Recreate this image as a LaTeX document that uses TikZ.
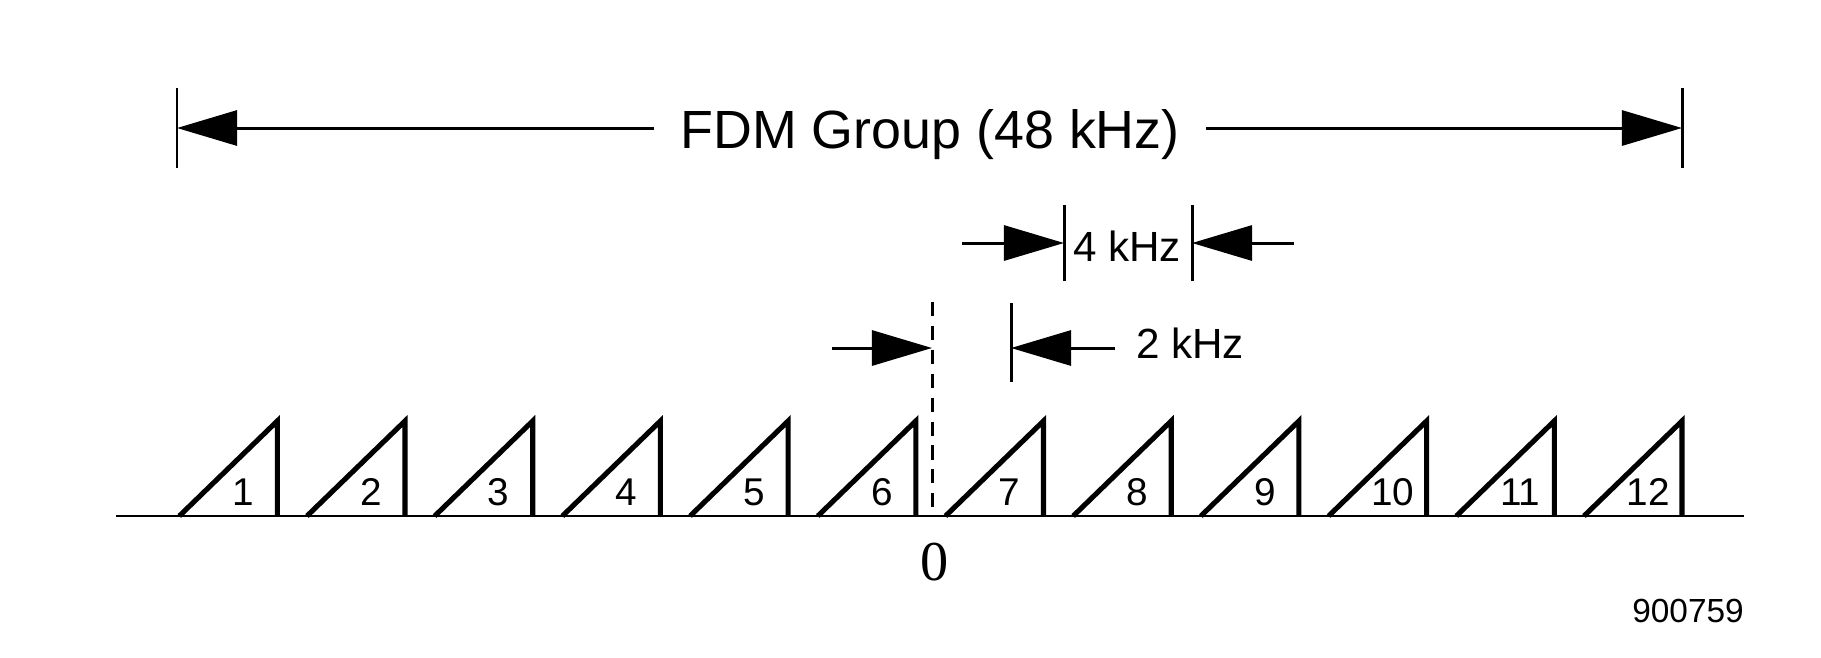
\documentclass[tikz,border=0pt]{standalone}
\usepackage{fontspec}
\setmainfont{Liberation Sans}
\newfontfamily\zerofont{Liberation Serif}
\usepackage{tikz}
\usetikzlibrary{arrows.meta}
\tikzstyle{dim}=[draw=black, line width=0.85pt, -{Triangle[length=0.6cm, width=0.35cm]}]
\tikzstyle{tickline}=[draw=black, line width=0.85pt]
\tikzstyle{axisline}=[draw=black, line width=0.8pt]
\tikzstyle{chan}=[draw=black, line width=1.45pt]
\tikzstyle{chanlabel}=[font=\fontsize{11}{13}\selectfont, inner sep=0pt]

\begin{document}
\begin{tikzpicture}[x=0.01cm, y=-0.01cm]
		   \useasboundingbox (0, 0) rectangle (1821, 657);
		   % group width
		   \coordinate (gl) at (177, 128);
		   \coordinate (gr) at (1682, 128);
		   \node[anchor=base, inner xsep=0.26cm, font=\fontsize{15.3}{18}\selectfont] (fdm) at (930, 148) {FDM Group (48 kHz)};
		   \draw[tickline] (gl) ++(0, -40) -- ++(0, 80);
		   \draw[tickline] (gr) ++(0, -40) -- ++(0, 80);
		   \draw[dim] (gl -| fdm.west) -- (gl);
		   \draw[dim] (gr -| fdm.east) -- (gr);
		   % channel spacing
		   \coordinate (a4) at (1064, 243);
		   \coordinate (b4) at (1192, 243);
		   \coordinate (a4s) at (962, 243);
		   \coordinate (b4s) at (1294, 243);
		   \node[anchor=base, font=\fontsize{12}{14}\selectfont] (f4) at (1127, 261) {4 kHz};
		   \draw[tickline] (a4) ++(0, -38) -- ++(0, 76);
		   \draw[tickline] (b4) ++(0, -38) -- ++(0, 76);
		   \draw[dim] (a4s) -- (a4);
		   \draw[dim] (b4s) -- (b4);
		   % offset from zero
		   \coordinate (zt) at (932, 302);
		   \coordinate (zb) at (932, 516);
		   \coordinate (z2) at (932, 348);
		   \coordinate (z2s) at (832, 348);
		   \coordinate (t2) at (1011, 348);
		   \coordinate (t2s) at (1115, 348);
		   \node[anchor=base, font=\fontsize{12}{14}\selectfont] (f2) at (1190, 358) {2 kHz};
		   \draw[tickline, dash pattern=on 4pt off 2.8pt] (zt) -- (zb);
		   \draw[tickline] (t2) ++(0, -45) -- ++(0, 79);
		   \draw[dim] (z2s) -- (z2);
		   \draw[dim] (t2s) -- (t2);
		   % frequency axis and channels
		   \draw[axisline] (116, 516) -- (1744, 516);
		   \foreach \i in {1,...,12} {
			   \pgfmathsetmacro{\xl}{179.3 + 127.7*(\i-1)}
			   \draw[chan] (\xl, 516) -- ++(98, -95) -- ++(0, 95);
			   \node[chanlabel] (c\i) at (\xl+64, 492) {\i};
		   }
		   \node[font=\zerofont\fontsize{16}{19}\selectfont] (zero) at (935, 562) {0};
		   \node[font=\fontsize{9.5}{11}\selectfont] (num) at (1688, 611) {900759};
	   \end{tikzpicture}
\end{document}
